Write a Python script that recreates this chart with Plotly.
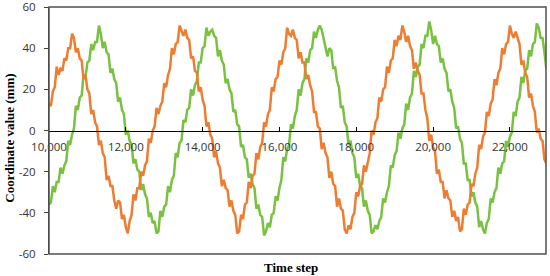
"""
Coordinate value vs time step - two noisy sinusoidal traces
"""
import plotly.graph_objects as go

# time steps, one sample every 50 steps
time_step = list(range(10000, 23000, 50))

# orange trace (mm)
orange_vals = [
    13, 12, 19, 21, 31, 27, 30, 29, 35, 34, 40, 40, 47, 45, 38, 40, 35, 34, 25, 27,
    20, 18, 8, 10, 4, 2, -7, -5, -11, -13, -24, -22, -27, -27, -34, -38, -34, -35, -43, -41,
    -47, -50, -44, -41, -31, -34, -28, -28, -20, -22, -17, -15, -4, -6, 0, 2, 11, 8, 12, 14,
    23, 21, 27, 30, 40, 37, 42, 43, 51, 48, 46, 49, 45, 44, 35, 36, 29, 28, 19, 21,
    15, 12, 2, 4, -2, -4, -13, -10, -16, -18, -27, -24, -28, -29, -37, -34, -39, -41, -50, -49,
    -41, -43, -36, -35, -25, -28, -22, -21, -11, -14, -8, -6, 4, 2, 8, 10, 21, 19, 25, 26,
    34, 32, 38, 40, 50, 47, 46, 49, 45, 44, 35, 38, 33, 33, 25, 27, 22, 19, 9, 9,
    2, 1, -9, -6, -11, -13, -23, -20, -26, -27, -37, -33, -38, -39, -48, -50, -46, -48, -42, -40,
    -30, -32, -27, -26, -17, -20, -15, -11, 0, -2, 4, 6, 16, 14, 20, 21, 31, 28, 34, 35,
    44, 41, 46, 44, 51, 48, 43, 46, 41, 39, 30, 33, 29, 27, 18, 18, 10, 6, -5, -2,
    -8, -10, -21, -19, -25, -25, -33, -29, -33, -34, -42, -39, -44, -42, -49, -48, -38, -41, -36, -35,
    -26, -27, -21, -18, -7, -9, -3, -1, 9, 7, 13, 15, 25, 22, 28, 30, 40, 37, 42, 43,
    51, 47, 45, 48, 45, 42, 32, 34, 28, 26, 16, 18, 12, 9, -1, 1, -4, -5, -14, -16,
]

# green trace (mm)
green_vals = [
    -36, -35, -27, -30, -25, -25, -18, -21, -17, -15, -5, -7, -2, 1, 12, 10, 16, 17, 27, 26,
    33, 34, 42, 39, 43, 43, 51, 47, 40, 43, 38, 37, 28, 30, 25, 23, 14, 16, 10, 8,
    -2, 0, -5, -7, -16, -14, -19, -20, -29, -26, -31, -33, -42, -40, -45, -44, -50, -49, -39, -42,
    -37, -36, -27, -30, -24, -22, -11, -13, -6, -5, 5, 4, 10, 11, 20, 17, 22, 24, 33, 33,
    40, 41, 50, 46, 48, 49, 46, 45, 36, 39, 34, 32, 23, 25, 20, 18, 9, 10, 3, 2,
    -8, -7, -13, -14, -23, -21, -26, -28, -38, -36, -41, -42, -51, -49, -45, -47, -41, -40, -32, -34,
    -28, -24, -13, -15, -9, -7, 3, 1, 7, 10, 20, 17, 23, 25, 35, 33, 39, 40, 48, 45,
    49, 51, 49, 45, 40, 36, 40, 39, 30, 31, 24, 21, 11, 12, 4, 2, -7, -5, -11, -13,
    -23, -21, -27, -28, -37, -34, -39, -41, -50, -49, -46, -48, -44, -42, -33, -35, -30, -27, -17, -18,
    -12, -10, -1, -4, 1, 3, 13, 10, 16, 18, 29, 26, 31, 32, 42, 40, 46, 46, 53, 49,
    42, 46, 42, 41, 33, 35, 30, 28, 19, 20, 14, 11, 1, 2, -4, -6, -16, -16, -24, -24,
    -32, -30, -35, -37, -47, -44, -48, -50, -45, -43, -33, -35, -30, -28, -18, -21, -16, -15, -5, -8,
    -3, -1, 9, 7, 14, 16, 26, 23, 29, 30, 39, 36, 42, 43, 52, 50, 45, 45, 38, 30,
]

x_ticks = [10000, 12000, 14000, 16000, 18000, 20000, 22000]
y_ticks = [-60, -40, -20, 0, 20, 40, 60]
y_tick_text = ['-60', '-40', '-20', '0', '20', '40', '60']

ORANGE = '#ED7D31'
GREEN = '#79C141'

fig = go.Figure()
fig.add_trace(go.Scatter(x=time_step, y=green_vals, mode='lines',
                         line=dict(color=GREEN, width=2.5), name='green'))
fig.add_trace(go.Scatter(x=time_step, y=orange_vals, mode='lines',
                         line=dict(color=ORANGE, width=2.5), name='orange'))

tick_font = dict(family='Open Sans', size=11.5, color='#333333')
title_font = dict(family='Liberation Serif', size=13, color='#000000')

fig.update_layout(
    width=550, height=276,
    margin=dict(l=49, r=4, t=7, b=22),
    paper_bgcolor='white', plot_bgcolor='white',
    showlegend=False,
    xaxis=dict(
        range=[10000, 22940], tickvals=x_ticks, tickformat=',d',
        anchor='free', position=0.5, automargin=False,
        showline=True, linecolor='#000000', linewidth=1,
        ticks='inside', ticklen=4, tickcolor='#000000',
        showgrid=False, zeroline=False, tickfont=tick_font,
        ticklabelstandoff=6, ticklabeloverflow='allow',
    ),
    yaxis=dict(
        range=[-60, 60], tickvals=y_ticks, ticktext=y_tick_text,
        automargin=False,
        showline=True, linecolor='#404040', linewidth=1,
        ticks='outside', ticklen=4, tickcolor='#404040',
        showgrid=False, zeroline=False, tickfont=tick_font,
        ticklabelstandoff=6, ticklabeloverflow='allow',
    ),
    shapes=[dict(type='rect', xref='paper', yref='paper', x0=0, x1=1, y0=0, y1=1,
                 line=dict(color='#505050', width=1.5), layer='above')],
    annotations=[
        dict(text='<b>Coordinate value (mm)</b>', textangle=-90, showarrow=False,
             xref='paper', yref='paper', x=-0.079, y=0.47,
             xanchor='center', yanchor='middle', font=title_font),
        dict(text='<b>Time step</b>', showarrow=False,
             xref='paper', yref='paper', x=0.487, y=-0.053,
             xanchor='center', yanchor='middle', font=title_font),
    ],
)

# page body has a default 8px margin; drop it so the figure sits at the corner
fig.write_html("out.html", config={'displayModeBar': False},
               post_script="document.body.style.margin='0';")
